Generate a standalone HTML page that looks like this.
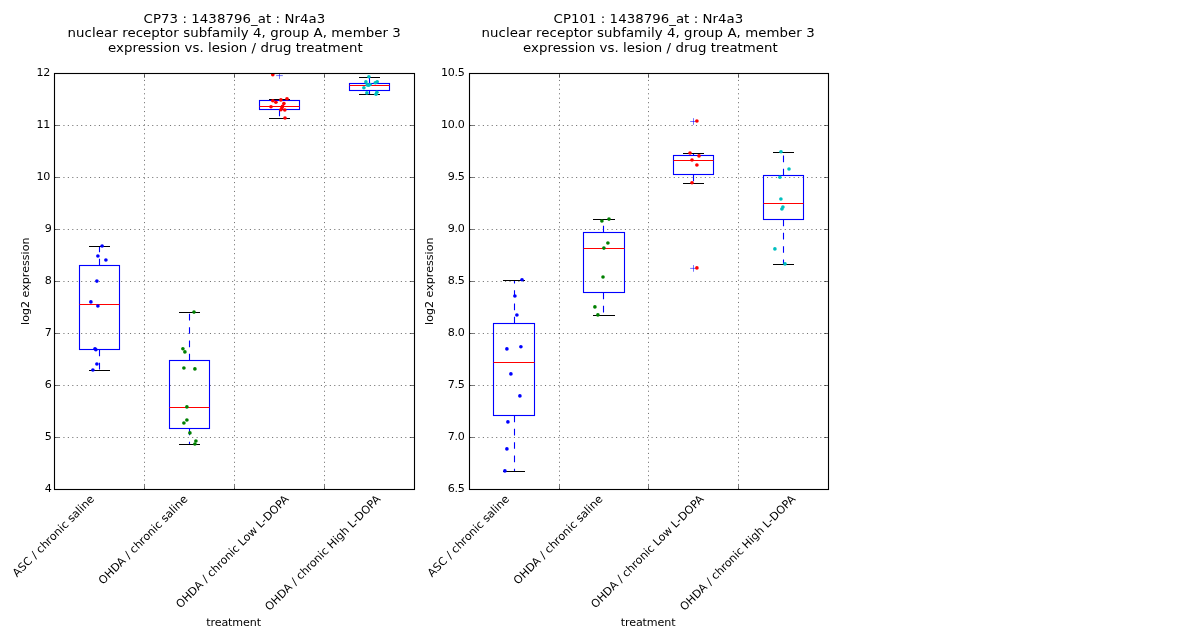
<!DOCTYPE html>
<html lang="en"><head><meta charset="utf-8"><title>Nr4a3 expression vs. lesion / drug treatment</title>
<style>html,body{margin:0;padding:0;background:#fff}body{width:1200px;height:640px;overflow:hidden}svg{display:block}text{white-space:pre}</style>
</head><body>
<svg width="1200" height="640" viewBox="0 0 1200 640" font-family='"DejaVu Sans", "Liberation Sans", sans-serif' fill="#000">
<rect width="1200" height="640" fill="#fff"/>
<clipPath id="clip54"><rect x="54.5" y="73.5" width="360.0" height="416.0"/></clipPath>
<path d="M54.5 437.5H414.5M54.5 385.5H414.5M54.5 333.5H414.5M54.5 281.5H414.5M54.5 229.5H414.5M54.5 177.5H414.5M54.5 125.5H414.5M144.5 489.5V73.5M234.5 489.5V73.5M324.5 489.5V73.5" fill="none" stroke="#000" stroke-width="0.55" stroke-dasharray="1.11 3.33"/>
<g clip-path="url(#clip54)">
<path d="M99.5 265.5V246.5M99.5 349.5V370.5" fill="none" stroke="#00f" stroke-width="1.11" stroke-dasharray="6.67 6.67"/>
<path d="M89 246.5H110M89 370.5H110" fill="none" stroke="#000" stroke-width="1.11"/>
<rect x="79.5" y="265.5" width="40.0" height="84.0" fill="none" stroke="#00f" stroke-width="1.11"/>
<path d="M79.5 304.5H119.5" fill="none" stroke="#f00" stroke-width="1.11"/>
<path d="M189.5 360.5V312.5M189.5 428.5V444.5" fill="none" stroke="#00f" stroke-width="1.11" stroke-dasharray="6.67 6.67"/>
<path d="M179 312.5H200M179 444.5H200" fill="none" stroke="#000" stroke-width="1.11"/>
<rect x="169.5" y="360.5" width="40.0" height="68.0" fill="none" stroke="#00f" stroke-width="1.11"/>
<path d="M169.5 407.5H209.5" fill="none" stroke="#f00" stroke-width="1.11"/>
<path d="M279.5 100.5V99.5M279.5 109.5V118.5" fill="none" stroke="#00f" stroke-width="1.11" stroke-dasharray="6.67 6.67"/>
<path d="M269 99.5H290M269 118.5H290" fill="none" stroke="#000" stroke-width="1.11"/>
<rect x="259.5" y="100.5" width="40.0" height="9.0" fill="none" stroke="#00f" stroke-width="1.11"/>
<path d="M259.5 106.5H299.5" fill="none" stroke="#f00" stroke-width="1.11"/>
<path d="M369.5 83.5V77.5M369.5 90.5V94.5" fill="none" stroke="#00f" stroke-width="1.11" stroke-dasharray="6.67 6.67"/>
<path d="M359 77.5H380M359 94.5H380" fill="none" stroke="#000" stroke-width="1.11"/>
<rect x="349.5" y="83.5" width="40.0" height="7.0" fill="none" stroke="#00f" stroke-width="1.11"/>
<path d="M349.5 85.5H389.5" fill="none" stroke="#f00" stroke-width="1.11"/>
<path d="M276.17 75.6H282.83M279.5 72.27V78.92999999999999" fill="none" stroke="#00f" stroke-width="0.55"/>
<g fill="#0000ff"><circle cx="102.1" cy="246.0" r="1.82"/><circle cx="97.9" cy="256.0" r="1.82"/><circle cx="105.9" cy="260.0" r="1.82"/><circle cx="96.9" cy="281.1" r="1.82"/><circle cx="90.9" cy="301.9" r="1.82"/><circle cx="97.9" cy="306.0" r="1.82"/><circle cx="95.0" cy="348.75" r="1.82"/><circle cx="95.9" cy="349.75" r="1.82"/><circle cx="96.9" cy="364.0" r="1.82"/><circle cx="92.9" cy="370.0" r="1.82"/></g>
<g fill="#008000"><circle cx="194.0" cy="312.1" r="1.82"/><circle cx="182.9" cy="348.75" r="1.82"/><circle cx="184.9" cy="351.9" r="1.82"/><circle cx="183.9" cy="368.0" r="1.82"/><circle cx="194.9" cy="368.9" r="1.82"/><circle cx="186.9" cy="406.9" r="1.82"/><circle cx="186.9" cy="420.0" r="1.82"/><circle cx="183.9" cy="423.0" r="1.82"/><circle cx="189.9" cy="432.9" r="1.82"/><circle cx="195.9" cy="441.0" r="1.82"/><circle cx="194.9" cy="444.0" r="1.82"/></g>
<g fill="#ff0000"><circle cx="272.8" cy="74.8" r="1.82"/><circle cx="272.8" cy="100.8" r="1.82"/><circle cx="275.9" cy="102.2" r="1.82"/><circle cx="280.9" cy="99.9" r="1.82"/><circle cx="287.0" cy="98.7" r="1.82"/><circle cx="283.9" cy="103.6" r="1.82"/><circle cx="271.0" cy="106.8" r="1.82"/><circle cx="282.5" cy="106.2" r="1.82"/><circle cx="280.9" cy="109.8" r="1.82"/><circle cx="284.8" cy="110.0" r="1.82"/><circle cx="282.0" cy="107.6" r="1.82"/><circle cx="285.0" cy="118.0" r="1.82"/></g>
<g fill="#00bfbf"><circle cx="368.9" cy="76.7" r="1.82"/><circle cx="365.9" cy="81.9" r="1.82"/><circle cx="377.2" cy="81.7" r="1.82"/><circle cx="375.3" cy="82.8" r="1.82"/><circle cx="367.3" cy="84.9" r="1.82"/><circle cx="370.1" cy="84.5" r="1.82"/><circle cx="368.7" cy="85.2" r="1.82"/><circle cx="363.9" cy="87.8" r="1.82"/><circle cx="366.9" cy="92.9" r="1.82"/><circle cx="376.9" cy="92.2" r="1.82"/><circle cx="376.0" cy="94.3" r="1.82"/></g>
</g>
<path d="M54.5 489.5h4.4M414.5 489.5h-4.4M54.5 437.5h4.4M414.5 437.5h-4.4M54.5 385.5h4.4M414.5 385.5h-4.4M54.5 333.5h4.4M414.5 333.5h-4.4M54.5 281.5h4.4M414.5 281.5h-4.4M54.5 229.5h4.4M414.5 229.5h-4.4M54.5 177.5h4.4M414.5 177.5h-4.4M54.5 125.5h4.4M414.5 125.5h-4.4M54.5 73.5h4.4M414.5 73.5h-4.4M144.5 489.5v-4.4M144.5 73.5v4.4M234.5 489.5v-4.4M234.5 73.5v4.4M324.5 489.5v-4.4M324.5 73.5v4.4M414.5 489.5v-4.4M414.5 73.5v4.4" fill="none" stroke="#000" stroke-width="0.55"/>
<rect x="54.5" y="73.5" width="360.0" height="416.0" fill="none" stroke="#000" stroke-width="1.11"/>
<text x="51.8" y="491.65" text-anchor="end" font-size="11.11" letter-spacing="0">4</text>
<text x="51.8" y="439.65" text-anchor="end" font-size="11.11" letter-spacing="0">5</text>
<text x="51.8" y="387.65" text-anchor="end" font-size="11.11" letter-spacing="0">6</text>
<text x="51.8" y="335.65" text-anchor="end" font-size="11.11" letter-spacing="0">7</text>
<text x="51.8" y="283.65" text-anchor="end" font-size="11.11" letter-spacing="0">8</text>
<text x="51.8" y="231.65" text-anchor="end" font-size="11.11" letter-spacing="0">9</text>
<text x="49.9" y="179.65" text-anchor="end" font-size="11.11" letter-spacing="-0.35">10</text>
<text x="49.9" y="127.65" text-anchor="end" font-size="11.11" letter-spacing="-0.35">11</text>
<text x="49.9" y="75.65" text-anchor="end" font-size="11.11" letter-spacing="-0.35">12</text>
<text transform="translate(143.6 23.3) scale(1 0.96)" font-size="13.33" letter-spacing="0.067">CP73 : 1438796_at : Nr4a3</text>
<text transform="translate(67.6 37.0) scale(1 0.96)" font-size="13.33" letter-spacing="0.074">nuclear receptor subfamily 4, group A, member 3</text>
<text transform="translate(108.0 51.95) scale(1 0.96)" font-size="13.33" letter-spacing="0.044">expression vs. lesion / drug treatment</text>
<text transform="translate(94.80 499.7) rotate(-45)" text-anchor="end" font-size="11.11">ASC / chronic saline</text>
<text transform="translate(188.30 499.7) rotate(-45)" text-anchor="end" font-size="11.11">OHDA / chronic saline</text>
<text transform="translate(289.50 499.7) rotate(-45)" text-anchor="end" font-size="11.11">OHDA / chronic Low L-DOPA</text>
<text transform="translate(381.20 499.7) rotate(-45)" text-anchor="end" font-size="11.11">OHDA / chronic High L-DOPA</text>
<text x="233.6" y="626" text-anchor="middle" font-size="11.11" letter-spacing="-0.1">treatment</text>
<text transform="translate(28.9 281.2) rotate(-90)" text-anchor="middle" font-size="11.11">log2 expression</text>
<clipPath id="clip469"><rect x="469.5" y="73.5" width="359.0" height="416.0"/></clipPath>
<path d="M469.5 437.5H828.5M469.5 385.5H828.5M469.5 333.5H828.5M469.5 281.5H828.5M469.5 229.5H828.5M469.5 177.5H828.5M469.5 125.5H828.5M559.5 489.5V73.5M648.5 489.5V73.5M738.5 489.5V73.5" fill="none" stroke="#000" stroke-width="0.55" stroke-dasharray="1.11 3.33"/>
<g clip-path="url(#clip469)">
<path d="M514.5 323.5V280.5M514.5 415.5V471.5" fill="none" stroke="#00f" stroke-width="1.11" stroke-dasharray="6.67 6.67"/>
<path d="M503 280.5H525M503 471.5H525" fill="none" stroke="#000" stroke-width="1.11"/>
<rect x="493.5" y="323.5" width="41.0" height="92.0" fill="none" stroke="#00f" stroke-width="1.11"/>
<path d="M493.5 362.5H534.5" fill="none" stroke="#f00" stroke-width="1.11"/>
<path d="M603.5 232.5V219.5M603.5 292.5V315.5" fill="none" stroke="#00f" stroke-width="1.11" stroke-dasharray="6.67 6.67"/>
<path d="M593 219.5H615M593 315.5H615" fill="none" stroke="#000" stroke-width="1.11"/>
<rect x="583.5" y="232.5" width="41.0" height="60.0" fill="none" stroke="#00f" stroke-width="1.11"/>
<path d="M583.5 248.5H624.5" fill="none" stroke="#f00" stroke-width="1.11"/>
<path d="M693.5 155.5V153.5M693.5 174.5V183.5" fill="none" stroke="#00f" stroke-width="1.11" stroke-dasharray="6.67 6.67"/>
<path d="M683 153.5H704M683 183.5H704" fill="none" stroke="#000" stroke-width="1.11"/>
<rect x="673.5" y="155.5" width="40.0" height="19.0" fill="none" stroke="#00f" stroke-width="1.11"/>
<path d="M673.5 160.5H713.5" fill="none" stroke="#f00" stroke-width="1.11"/>
<path d="M783.5 175.5V152.5M783.5 219.5V264.5" fill="none" stroke="#00f" stroke-width="1.11" stroke-dasharray="6.67 6.67"/>
<path d="M773 152.5H794M773 264.5H794" fill="none" stroke="#000" stroke-width="1.11"/>
<rect x="763.5" y="175.5" width="40.0" height="44.0" fill="none" stroke="#00f" stroke-width="1.11"/>
<path d="M763.5 203.5H803.5" fill="none" stroke="#f00" stroke-width="1.11"/>
<path d="M690.17 121.5H696.83M693.5 118.17V124.83" fill="none" stroke="#00f" stroke-width="0.55"/>
<path d="M690.17 268.4H696.83M693.5 265.07V271.72999999999996" fill="none" stroke="#00f" stroke-width="0.55"/>
<g fill="#0000ff"><circle cx="522.0" cy="279.75" r="1.82"/><circle cx="514.9" cy="296.0" r="1.82"/><circle cx="516.9" cy="315.0" r="1.82"/><circle cx="520.9" cy="346.8" r="1.82"/><circle cx="506.9" cy="348.9" r="1.82"/><circle cx="510.9" cy="373.9" r="1.82"/><circle cx="519.9" cy="395.9" r="1.82"/><circle cx="507.9" cy="421.9" r="1.82"/><circle cx="506.9" cy="448.9" r="1.82"/><circle cx="504.9" cy="470.9" r="1.82"/></g>
<g fill="#008000"><circle cx="609.0" cy="219.1" r="1.82"/><circle cx="601.9" cy="221.0" r="1.82"/><circle cx="607.9" cy="243.0" r="1.82"/><circle cx="603.9" cy="248.1" r="1.82"/><circle cx="603.0" cy="277.0" r="1.82"/><circle cx="594.9" cy="306.9" r="1.82"/><circle cx="597.9" cy="314.9" r="1.82"/></g>
<g fill="#ff0000"><circle cx="696.9" cy="121.0" r="1.82"/><circle cx="690.0" cy="153.0" r="1.82"/><circle cx="699.0" cy="155.9" r="1.82"/><circle cx="692.0" cy="160.0" r="1.82"/><circle cx="696.9" cy="165.0" r="1.82"/><circle cx="692.0" cy="182.8" r="1.82"/><circle cx="696.9" cy="267.9" r="1.82"/></g>
<g fill="#00bfbf"><circle cx="781.0" cy="151.8" r="1.82"/><circle cx="789.0" cy="169.0" r="1.82"/><circle cx="779.9" cy="177.2" r="1.82"/><circle cx="780.9" cy="199.0" r="1.82"/><circle cx="782.9" cy="207.1" r="1.82"/><circle cx="781.9" cy="209.0" r="1.82"/><circle cx="774.9" cy="248.9" r="1.82"/><circle cx="785.0" cy="263.9" r="1.82"/></g>
</g>
<path d="M469.5 489.5h4.4M828.5 489.5h-4.4M469.5 437.5h4.4M828.5 437.5h-4.4M469.5 385.5h4.4M828.5 385.5h-4.4M469.5 333.5h4.4M828.5 333.5h-4.4M469.5 281.5h4.4M828.5 281.5h-4.4M469.5 229.5h4.4M828.5 229.5h-4.4M469.5 177.5h4.4M828.5 177.5h-4.4M469.5 125.5h4.4M828.5 125.5h-4.4M469.5 73.5h4.4M828.5 73.5h-4.4M559.5 489.5v-4.4M559.5 73.5v4.4M648.5 489.5v-4.4M648.5 73.5v4.4M738.5 489.5v-4.4M738.5 73.5v4.4M828.5 489.5v-4.4M828.5 73.5v4.4" fill="none" stroke="#000" stroke-width="0.55"/>
<rect x="469.5" y="73.5" width="359.0" height="416.0" fill="none" stroke="#000" stroke-width="1.11"/>
<text x="464.5" y="491.65" text-anchor="end" font-size="11.11" letter-spacing="-0.3">6.5</text>
<text x="464.5" y="439.65" text-anchor="end" font-size="11.11" letter-spacing="-0.3">7.0</text>
<text x="464.5" y="387.65" text-anchor="end" font-size="11.11" letter-spacing="-0.3">7.5</text>
<text x="464.5" y="335.65" text-anchor="end" font-size="11.11" letter-spacing="-0.3">8.0</text>
<text x="464.5" y="283.65" text-anchor="end" font-size="11.11" letter-spacing="-0.3">8.5</text>
<text x="464.5" y="231.65" text-anchor="end" font-size="11.11" letter-spacing="-0.3">9.0</text>
<text x="464.5" y="179.65" text-anchor="end" font-size="11.11" letter-spacing="-0.3">9.5</text>
<text x="464.5" y="127.65" text-anchor="end" font-size="11.11" letter-spacing="-0.3">10.0</text>
<text x="464.5" y="75.65" text-anchor="end" font-size="11.11" letter-spacing="-0.3">10.5</text>
<text transform="translate(553.6 23.3) scale(1 0.96)" font-size="13.33" letter-spacing="0.044">CP101 : 1438796_at : Nr4a3</text>
<text transform="translate(481.5 37.0) scale(1 0.96)" font-size="13.33" letter-spacing="0.074">nuclear receptor subfamily 4, group A, member 3</text>
<text transform="translate(523.0 51.95) scale(1 0.96)" font-size="13.33" letter-spacing="0.044">expression vs. lesion / drug treatment</text>
<text transform="translate(509.80 499.7) rotate(-45)" text-anchor="end" font-size="11.11">ASC / chronic saline</text>
<text transform="translate(603.30 499.7) rotate(-45)" text-anchor="end" font-size="11.11">OHDA / chronic saline</text>
<text transform="translate(704.50 499.7) rotate(-45)" text-anchor="end" font-size="11.11">OHDA / chronic Low L-DOPA</text>
<text transform="translate(796.20 499.7) rotate(-45)" text-anchor="end" font-size="11.11">OHDA / chronic High L-DOPA</text>
<text x="648.1" y="626" text-anchor="middle" font-size="11.11" letter-spacing="-0.1">treatment</text>
<text transform="translate(432.6 281.2) rotate(-90)" text-anchor="middle" font-size="11.11">log2 expression</text>
</svg>
</body></html>
